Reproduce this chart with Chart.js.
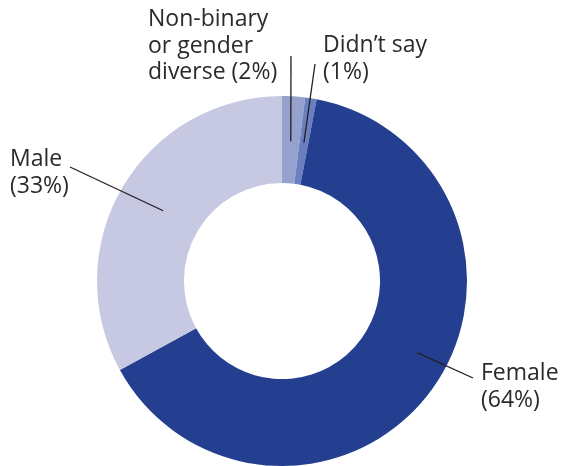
<!DOCTYPE html>
<html>
<head>
<meta charset="utf-8">
<script src="https://cdn.jsdelivr.net/npm/chart.js@4"></script>
<style>
  html, body { margin: 0; padding: 0; background: #fff; }
  #wrap { width: 563px; height: 466px; }
</style>
</head>
<body>
<div id="wrap"><canvas id="gender" width="563" height="466"></canvas></div>
<script>
// data
var categories = ['Non-binary or gender diverse', 'Didn\u2019t say', 'Female', 'Male'];
var shares = [2, 1, 64, 33];
var labelLines = [
    ['Non-binary', 'or gender', 'diverse (2%)'],
    ['Didn\u2019t say', '(1%)'],
    ['Female', '(64%)'],
    ['Male', '(33%)']
];
var sliceColours = ['#95a2cd', '#6a7ec0', '#243f8f', '#c7c8e1'];

// where each callout sits: fraction along the slice, radius of the leader start,
// leader end and text block position (offsets relative to chart centre)
var callouts = [
    { frac: 0.5, r: 140, end: [9, -225], text: [-134, -255], align: 'left' },
    { frac: 0.5, r: 140, end: [33, -217], text: [41, -229], align: 'left' },
    { frac: 0.465, r: 153, end: [191, 97], text: [199, 99], align: 'left' },
    { frac: 0.5, r: 138, end: [-212, -114], text: [-272, -115], align: 'left' }
];

var calloutPlugin = {
    id: 'callouts',
    afterDatasetsDraw: function (chart) {
        var c = chart.ctx;
        var arcs = chart.getDatasetMeta(0).data;
        c.save();
        c.font = '23px "Open Sans", sans-serif';
        c.fillStyle = '#2b2a2a';
        c.strokeStyle = '#231f20';
        c.lineWidth = 1.3;
        c.textBaseline = 'alphabetic';
        arcs.forEach(function (arc, i) {
            var p = arc.getProps(['x', 'y', 'startAngle', 'endAngle'], true);
            var o = callouts[i];
            var a = p.startAngle + (p.endAngle - p.startAngle) * o.frac;
            var sx = p.x + Math.cos(a) * o.r;
            var sy = p.y + Math.sin(a) * o.r;
            c.beginPath();
            c.moveTo(sx, sy);
            c.lineTo(p.x + o.end[0], p.y + o.end[1]);
            c.stroke();
            c.textAlign = o.align;
            labelLines[i].forEach(function (line, j) {
                c.fillText(line, p.x + o.text[0], p.y + o.text[1] + j * 26.5);
            });
        });
        c.restore();
    }
};

var ctx = document.getElementById('gender').getContext('2d');
var chart = new Chart(ctx, {
    type: 'doughnut',
    data: {
        labels: categories,
        datasets: [{
            data: shares,
            backgroundColor: sliceColours,
            borderWidth: 0
        }]
    },
    options: {
        responsive: false,
        animation: false,
        cutout: '53%',
        layout: {
            padding: { top: 96, bottom: -2, left: 96, right: 95 }
        },
        plugins: {
            legend: { display: false },
            tooltip: { enabled: false }
        }
    },
    plugins: [calloutPlugin]
});
</script>
</body>
</html>
